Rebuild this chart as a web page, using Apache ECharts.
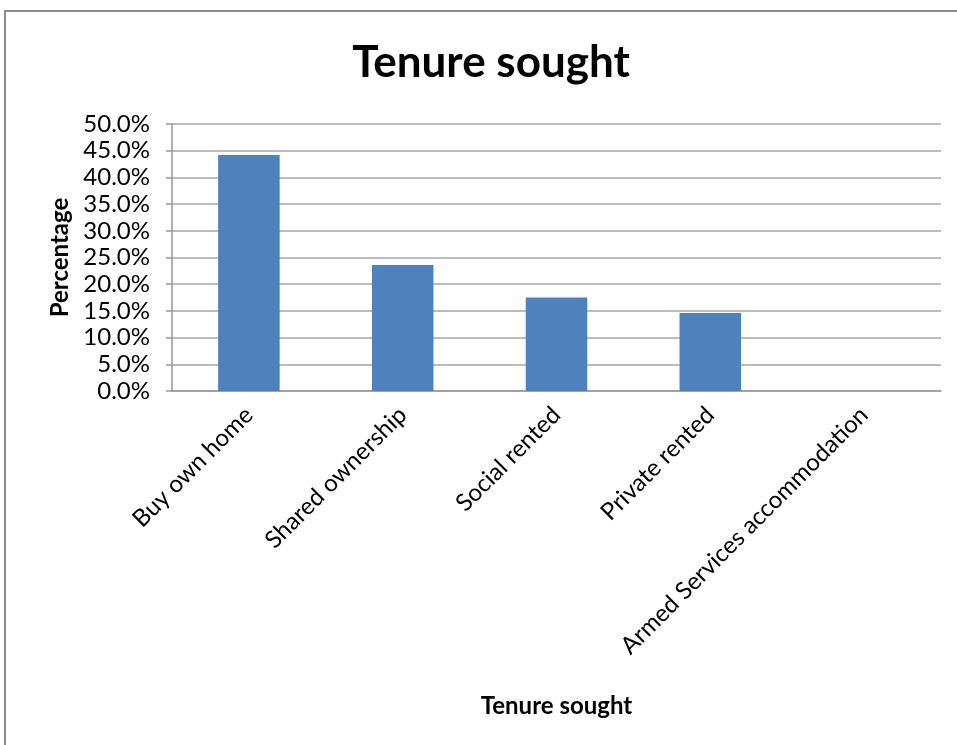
<!DOCTYPE html>
<html>
<head>
<meta charset="utf-8">
<script src="https://cdn.jsdelivr.net/npm/echarts@6/dist/echarts.min.js"></script>
<style>
  html, body { margin: 0; padding: 0; background: #fff; }
  #main { width: 957px; height: 745px; }
</style>
</head>
<body>
<div id="main"></div>
<script>
  // 数据
  var categories = ['Buy own home', 'Shared ownership', 'Social rented', 'Private rented', 'Armed Services accommodation'];
  var percentages = [44.2, 23.6, 17.5, 14.6, 0];

  var font = 'Lato, "Open Sans", sans-serif';
  var chart = echarts.init(document.getElementById('main'));

  var option = {
    backgroundColor: '#fff',
    animation: false,
    title: {
      text: 'Tenure sought',
      left: 486,
      textAlign: 'center',
      top: 36,
      textStyle: { fontFamily: font, fontSize: 44, fontWeight: 'bold', color: '#000' }
    },
    graphic: [{
      type: 'rect',
      shape: { x: 5, y: 11, width: 970, height: 760 },
      style: { fill: 'none', stroke: '#8c8c8c', lineWidth: 2 },
      silent: true
    }],
    grid: { left: 172, right: 16, top: 124, bottom: 354 },
    xAxis: {
      type: 'category',
      data: categories,
      name: 'Tenure sought',
      nameLocation: 'middle',
      nameGap: 303,
      nameTextStyle: { fontFamily: font, fontSize: 24, fontWeight: 'bold', color: '#000' },
      axisLine: { lineStyle: { color: '#999', width: 1.5 } },
      axisTick: { alignWithLabel: false, length: 7, lineStyle: { color: '#999', width: 1.5 } },
      axisLabel: { rotate: 45, fontFamily: font, fontSize: 24, color: '#000', margin: 20, interval: 0 }
    },
    yAxis: {
      type: 'value',
      min: 0,
      max: 50,
      interval: 5,
      name: 'Percentage',
      nameLocation: 'middle',
      nameGap: 100,
      nameTextStyle: { fontFamily: font, fontSize: 24, fontWeight: 'bold', color: '#000' },
      axisLine: { show: true, lineStyle: { color: '#999', width: 1.5 } },
      axisTick: { show: true, length: 6, lineStyle: { color: '#999', width: 1.5 } },
      splitLine: { lineStyle: { color: '#a6a6a6', width: 1.5 } },
      axisLabel: {
        fontFamily: font, fontSize: 24, color: '#000', margin: 22,
        formatter: function (v) { return v.toFixed(1) + '%'; }
      }
    },
    series: [{
      type: 'bar',
      data: percentages,
      barWidth: '40%',
      itemStyle: { color: '#4F81BD' }
    }]
  };

  chart.setOption(option);
</script>
</body>
</html>
